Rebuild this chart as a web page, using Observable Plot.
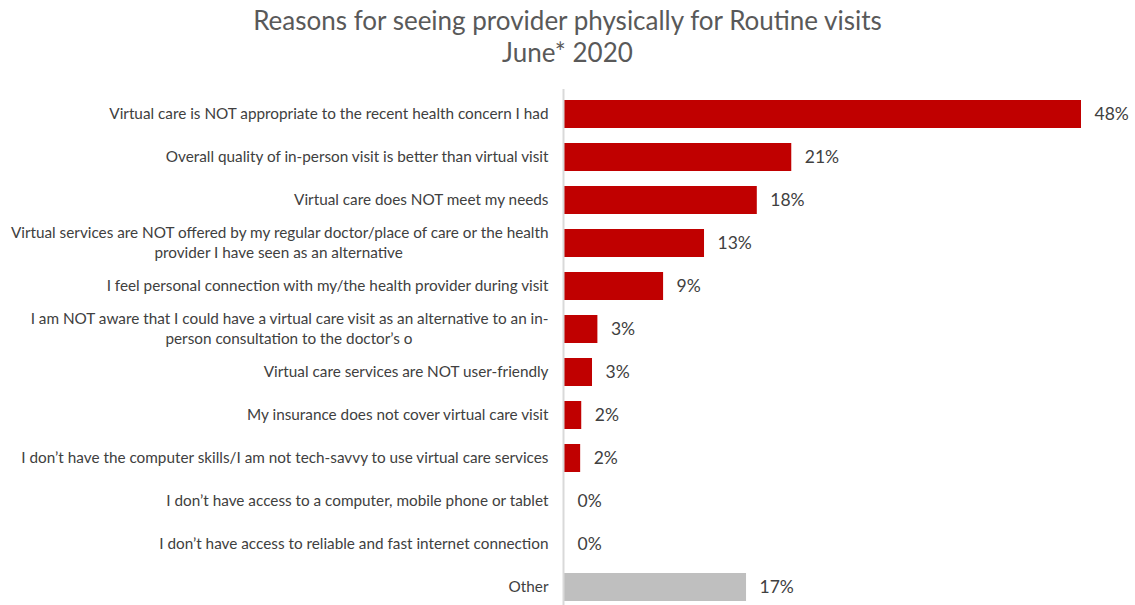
<!DOCTYPE html>
<html><head><meta charset="utf-8">
<script src="https://cdn.jsdelivr.net/npm/d3@7"></script>
<script src="https://cdn.jsdelivr.net/npm/@observablehq/plot@0.6"></script>
<style>
body{margin:0;background:#fff;font-family:Lato, sans-serif;}
#title{height:88px;text-align:center;color:#595959;font-size:26px;line-height:32px;padding-top:4px;box-sizing:border-box;}
#chart svg{display:block;}
</style></head><body>
<div id="title">Reasons for seeing provider physically for Routine visits<br>June* 2020</div>
<div id="chart"></div>
<script>
const categories = [
 "Virtual care is NOT appropriate to the recent health concern I had",
 "Overall quality of in-person visit is better than virtual visit",
 "Virtual care does NOT meet my needs",
 "Virtual services are NOT offered by my regular doctor/place of care or the health\nprovider I have seen as an alternative",
 "I feel personal connection with my/the health provider during visit",
 "I am NOT aware that I could have a virtual care visit as an alternative to an in-\nperson consultation to the doctor’s o",
 "Virtual care services are NOT user-friendly",
 "My insurance does not cover virtual care visit",
 "I don’t have the computer skills/I am not tech-savvy to use virtual care services",
 "I don’t have access to a computer, mobile phone or tablet",
 "I don’t have access to reliable and fast internet connection",
 "Other"
];
const values = [48, 21.1, 17.9, 13, 9.2, 3.1, 2.6, 1.6, 1.5, 0, 0, 16.9];
const valueLabels = ["48%","21%","18%","13%","9%","3%","3%","2%","2%","0%","0%","17%"];

const rows = categories.map((cat, i) => ({cat, value: values[i], label: valueLabels[i]}));

const FONT = "Lato";
const LABEL_SIZE = 15.3;
const ctx = document.createElement("canvas").getContext("2d");
ctx.font = `${LABEL_SIZE}px ${FONT}`;
const measure = s => ctx.measureText(s).width;

const labelMarks = [];
const single = rows.filter(r => !r.cat.includes("\n"));
labelMarks.push(Plot.text(single, {x: 0, y: "cat", text: "cat", textAnchor: "end", dx: -16, fontSize: LABEL_SIZE, fill: "#404040"}));
rows.filter(r => r.cat.includes("\n")).forEach(r => {
  const lines = r.cat.split("\n");
  const w1 = measure(lines[0]);
  labelMarks.push(Plot.text([r], {x: 0, y: "cat", text: () => lines[0], textAnchor: "end", dx: -16, dy: -10, fontSize: LABEL_SIZE, fill: "#404040"}));
  labelMarks.push(Plot.text([r], {x: 0, y: "cat", text: () => lines[1], textAnchor: "middle", dx: -16 - w1 / 2, dy: 10, fontSize: LABEL_SIZE, fill: "#404040"}));
});

const chart = Plot.plot({
  width: 1135,
  height: 517,
  marginTop: 0, marginBottom: 0, marginLeft: 0, marginRight: 0,
  style: {fontFamily: FONT, background: "#fff"},
  x: {domain: [0, 48], range: [564, 1081], axis: null},
  y: {domain: categories, range: [9.5, 514.5], paddingInner: 0.355, paddingOuter: 0, axis: null},
  marks: [
    Plot.barX(rows.filter(r => r.cat !== "Other"), {x: "value", y: "cat", fill: "#C00000"}),
    Plot.barX(rows.filter(r => r.cat === "Other"), {x: "value", y: "cat", fill: "#BFBFBF"}),
    Plot.ruleX([0], {stroke: "#d9d9d9", strokeWidth: 2, dx: -1, insetTop: 1}),
    ...labelMarks,
    Plot.text(rows, {x: "value", y: "cat", text: "label", textAnchor: "start", dx: 13, fontSize: 17.5, fill: "#404040"})
  ]
});
document.getElementById("chart").appendChild(chart);
</script>
</body></html>
